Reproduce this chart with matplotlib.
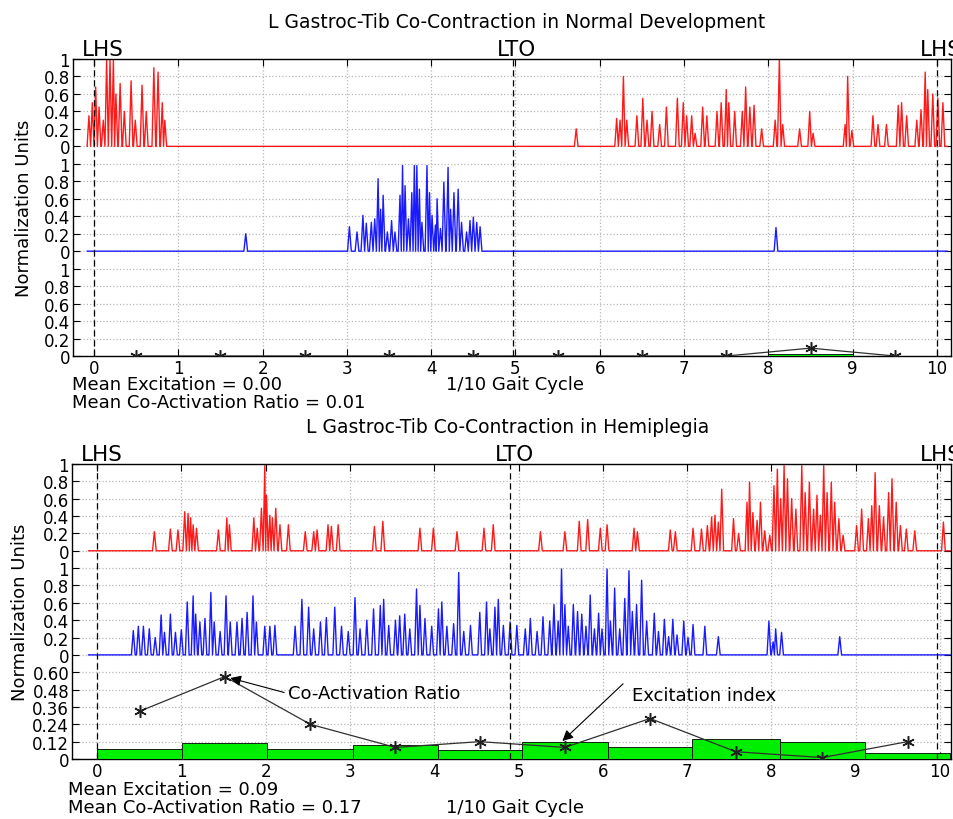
import numpy as np
import matplotlib
matplotlib.use("Agg")
import matplotlib.pyplot as plt

# ---------------- data ----------------
x_ticks = list(range(11))
band_offsets = [0.0, 1.2, 2.4]
band_ticks = [0, 0.2, 0.4, 0.6, 0.8, 1.0]
band_tick_labels = ['0', '0.2', '0.4', '0.6', '0.8', '1']
ratio_labels_normal = ['0', '0.2', '0.4', '0.6', '0.8', '1']
ratio_labels_hemi = ['0', '0.12', '0.24', '0.36', '0.48', '0.60']
ratio_scale_normal = 1.0
ratio_scale_hemi = 0.6

titles = ['L Gastroc-Tib Co-Contraction in Normal Development',
          'L Gastroc-Tib Co-Contraction in Hemiplegia']
mean_excitation = ['0.00', '0.09']
mean_ratio = ['0.01', '0.17']

event_labels = ['LHS', 'LTO', 'LHS']
normal_events = [0.0, 4.97, 10.0]
hemi_events = [0.0, 4.90, 9.96]

normal_signal_range = [-0.08, 10.12]
hemi_signal_range = [-0.1, 10.12]

# Normal development: red trace (upper band) peaks
normal_red_x = [-0.06, -0.02, 0.02, 0.06, 0.11, 0.15, 0.19, 0.23, 0.26, 0.31, 0.36, 0.44, 0.49,
                0.57, 0.62, 0.71, 0.76, 0.81, 0.84, 5.72,
                6.20, 6.24, 6.28, 6.32, 6.44, 6.51, 6.56, 6.62, 6.71, 6.79,
                6.92, 6.99, 7.03, 7.09, 7.13, 7.22, 7.27, 7.39, 7.44, 7.50,
                7.53, 7.60, 7.69, 7.73, 7.78, 7.83, 7.92, 8.08, 8.13, 8.17,
                8.37, 8.49, 8.53, 8.91, 8.94, 8.99, 9.24, 9.30, 9.40, 9.54,
                9.58, 9.64, 9.76, 9.81, 9.86, 9.89, 9.95, 10.01, 10.07]
normal_red_y = [0.35, 0.50, 0.68, 0.45, 0.30, 1.0, 1.0, 1.0, 0.60, 0.72, 0.40, 0.75, 0.30,
                0.70, 0.40, 0.90, 0.85, 0.50, 0.30, 0.20,
                0.32, 0.30, 0.80, 0.30, 0.35, 0.55, 0.30, 0.40, 0.25, 0.45,
                0.55, 0.50, 0.35, 0.35, 0.15, 0.45, 0.35, 0.40, 0.50, 0.65,
                0.50, 0.40, 0.40, 0.68, 0.45, 0.47, 0.20, 0.30, 1.0, 0.25,
                0.20, 0.40, 0.15, 0.25, 0.80, 0.18, 0.35, 0.25, 0.25, 0.47,
                0.50, 0.35, 0.30, 0.42, 0.85, 0.65, 0.60, 0.55, 0.50]

# Normal development: blue trace (middle band) peaks
normal_blue_x = [1.80, 3.03, 3.12, 3.19, 3.23, 3.29, 3.33, 3.37, 3.40, 3.43, 3.48,
                 3.53, 3.57, 3.63, 3.66, 3.69, 3.73, 3.77, 3.80, 3.83, 3.86,
                 3.89, 3.95, 3.98, 4.01, 4.05, 4.07, 4.11, 4.15, 4.20, 4.23,
                 4.27, 4.32, 4.36, 4.42, 4.46, 4.50, 4.54, 4.58, 8.09]
normal_blue_y = [0.20, 0.28, 0.22, 0.41, 0.32, 0.33, 0.37, 0.83, 0.48, 0.64, 0.22,
                 0.35, 0.22, 0.64, 0.98, 0.75, 0.37, 0.67, 0.98, 0.98, 0.71,
                 0.33, 0.98, 0.67, 0.41, 0.30, 0.60, 0.26, 0.79, 0.96, 0.48,
                 0.67, 0.71, 0.33, 0.22, 0.35, 0.39, 0.33, 0.28, 0.27]

# Hemiplegia: red trace peaks
hemi_red_x = [0.68, 0.87, 0.96, 1.04, 1.08, 1.11, 1.14, 1.18, 1.44, 1.54,
              1.57, 1.86, 1.90, 1.95, 1.99, 2.01, 2.05, 2.08, 2.12, 2.17,
              2.27, 2.47, 2.57, 2.61, 2.74, 2.78, 2.86, 3.29, 3.39, 3.83,
              3.99, 4.27, 4.59, 4.70, 5.26, 5.55, 5.72, 5.82, 5.97, 6.05,
              6.37, 6.41, 6.80, 6.86, 7.07, 7.17, 7.24, 7.29, 7.33, 7.37,
              7.41, 7.55, 7.61, 7.71, 7.74, 7.78, 7.83, 7.87, 7.92, 7.98,
              8.03, 8.07, 8.11, 8.15, 8.19, 8.24, 8.29, 8.36, 8.40, 8.45,
              8.50, 8.54, 8.58, 8.62, 8.66, 8.71, 8.75, 8.80, 8.85, 9.01,
              9.07, 9.15, 9.19, 9.23, 9.28, 9.33, 9.39, 9.43, 9.48, 9.53,
              9.60, 9.70, 10.04]
hemi_red_y = [0.22, 0.25, 0.24, 0.45, 0.43, 0.38, 0.30, 0.26, 0.24, 0.38,
              0.30, 0.38, 0.26, 0.49, 0.98, 0.64, 0.41, 0.38, 0.49, 0.30,
              0.30, 0.22, 0.22, 0.24, 0.30, 0.28, 0.30, 0.28, 0.34, 0.26,
              0.26, 0.22, 0.26, 0.30, 0.22, 0.22, 0.34, 0.36, 0.26, 0.30,
              0.26, 0.22, 0.24, 0.22, 0.26, 0.25, 0.29, 0.39, 0.41, 0.33,
              0.71, 0.37, 0.20, 0.56, 0.79, 0.44, 0.35, 0.56, 0.23, 0.18,
              0.75, 0.94, 0.60, 0.98, 0.83, 0.60, 0.48, 0.98, 0.67, 0.79,
              0.48, 0.64, 0.41, 0.98, 0.67, 0.79, 0.56, 0.37, 0.18, 0.29,
              0.48, 0.37, 0.52, 0.90, 0.52, 0.39, 0.67, 0.83, 0.56, 0.29,
              0.25, 0.23, 0.33]

# Hemiplegia: blue trace peaks
hemi_blue_x = [0.43, 0.49, 0.55, 0.62, 0.69, 0.76, 0.80, 0.87, 0.93, 1.00,
               1.07, 1.14, 1.17, 1.22, 1.28, 1.35, 1.39, 1.46, 1.53, 1.58,
               1.66, 1.72, 1.78, 1.85, 1.89, 1.99, 2.05, 2.11, 2.35, 2.43,
               2.51, 2.57, 2.65, 2.72, 2.82, 2.90, 2.98, 3.06, 3.12, 3.20,
               3.28, 3.36, 3.40, 3.46, 3.54, 3.59, 3.65, 3.71, 3.79, 3.83,
               3.89, 3.97, 4.05, 4.09, 4.15, 4.23, 4.29, 4.35, 4.43, 4.54,
               4.62, 4.66, 4.72, 4.76, 4.82, 4.90, 4.98,
               5.08, 5.14, 5.22, 5.29, 5.37, 5.42, 5.47, 5.51, 5.55, 5.59,
               5.65, 5.70, 5.75, 5.80, 5.85, 5.90, 5.95, 5.99, 6.05, 6.09,
               6.14, 6.20, 6.26, 6.31, 6.35, 6.40, 6.46, 6.52, 6.61, 6.66,
               6.73, 6.78, 6.83, 6.88, 6.96, 7.01, 7.07, 7.21, 7.37, 7.97,
               8.02, 8.05, 8.12, 8.81]
hemi_blue_y = [0.28, 0.33, 0.33, 0.30, 0.20, 0.46, 0.26, 0.47, 0.26, 0.29,
               0.61, 0.68, 0.47, 0.38, 0.42, 0.72, 0.38, 0.27, 0.68, 0.38,
               0.38, 0.42, 0.49, 0.68, 0.38, 0.33, 0.33, 0.34, 0.33, 0.64,
               0.55, 0.30, 0.38, 0.43, 0.55, 0.33, 0.27, 0.66, 0.30, 0.40,
               0.53, 0.57, 0.64, 0.34, 0.40, 0.45, 0.47, 0.30, 0.76, 0.57,
               0.42, 0.33, 0.53, 0.61, 0.33, 0.36, 0.95, 0.27, 0.34, 0.49,
               0.61, 0.30, 0.55, 0.64, 0.34, 0.38, 0.34,
               0.30, 0.42, 0.27, 0.44, 0.39, 0.58, 0.39, 0.99, 0.58, 0.33,
               0.58, 0.50, 0.47, 0.33, 0.69, 0.30, 0.48, 0.30, 0.99, 0.39,
               0.77, 0.30, 0.65, 0.97, 0.50, 0.58, 0.86, 0.39, 0.48, 0.27,
               0.41, 0.21, 0.41, 0.23, 0.39, 0.20, 0.35, 0.33, 0.21, 0.39,
               0.15, 0.30, 0.26, 0.21]

# Per-tenth co-activation ratio and excitation index
normal_bin_edges = [0, 1, 2, 3, 4, 5, 6, 7, 8, 9, 10]
normal_ratio = [0, 0, 0, 0, 0, 0, 0, 0, 0.09, 0]
normal_excitation = [0, 0, 0, 0, 0, 0, 0, 0.005, 0.02, 0]

hemi_bin_edges = [0, 1.01, 2.02, 3.04, 4.04, 5.04, 6.06, 7.06, 8.10, 9.11, 10.12]
hemi_ratio = [0.33, 0.57, 0.24, 0.08, 0.12, 0.08, 0.28, 0.05, 0.01, 0.12]
hemi_excitation = [0.07, 0.11, 0.07, 0.10, 0.06, 0.12, 0.08, 0.14, 0.12, 0.04]

# ---------------- drawing ----------------
W, H = 954, 820
fig = plt.figure(figsize=(W / 100, H / 100), dpi=100)
FS = 13
TICK_FS = 12


def spike_trace(px, py, rng, half=0.022):
    xs, ys = [rng[0]], [0.0]
    n = len(px)
    for i in range(n):
        gl = px[i] - px[i - 1] if i > 0 else 1.0
        gr = px[i + 1] - px[i] if i < n - 1 else 1.0
        wl, wr = min(half, gl / 2), min(half, gr / 2)
        xs += [px[i] - wl, px[i], px[i] + wr]
        ys += [0.0, py[i], 0.0]
    xs.append(rng[1])
    ys.append(0.0)
    return np.array(xs), np.array(ys)


def draw_panel(ax, xlim, red, blue, rng, edges, ratio, excit, scale, rlabels,
               events, label_dx):
    ax.set_xlim(*xlim)
    ax.set_ylim(0, 3.4)
    ax.set_axisbelow(True)
    yt = [off + t for off in band_offsets for t in band_ticks]
    ylab = rlabels + band_tick_labels + band_tick_labels
    ax.set_yticks(yt)
    ax.set_yticklabels(ylab)
    ax.set_xticks(x_ticks)
    ax.set_xticklabels([str(t) for t in x_ticks])
    ax.grid(True, color='#b8b8b8', linestyle=':', linewidth=0.9)
    ax.tick_params(direction='in', top=True, right=True, length=5, width=0.8,
                   labelsize=TICK_FS, pad=2)
    for s in ax.spines.values():
        s.set_linewidth(1.0)

    edges = np.array(edges, dtype=float)
    lefts = edges[:-1]
    widths = np.diff(edges)
    ax.bar(lefts, np.array(excit) / scale, width=widths, align='edge',
           color='#00ee00', edgecolor='black', linewidth=0.6, zorder=3)
    centers = lefts + widths / 2
    ax.plot(centers, np.array(ratio) / scale, color='#303030', lw=0.9,
            marker=(6, 2, 0), ms=9, mew=1.1, mec='#202020', zorder=4)

    rx, ry = spike_trace(red[0], red[1], rng)
    ax.plot(rx, ry + band_offsets[2], color='#ff1a1a', lw=1.0, zorder=2)
    bx, by = spike_trace(blue[0], blue[1], rng)
    ax.plot(bx, by + band_offsets[1], color='#1a1aff', lw=1.0, zorder=2)

    for e, lab, dx in zip(events, event_labels, label_dx):
        ax.axvline(e, color='black', linestyle=(0, (5, 3)), lw=0.9, zorder=5)
        ax.text(e + dx, 3.4, lab, ha='center', va='bottom', fontsize=15.5,
                transform=ax.transData)


def fx(px):
    return px / W


def fy(py):
    return 1 - py / H


# top panel
ax1 = fig.add_axes([fx(73), fy(357), (951 - 73) / W, 297 / H])
draw_panel(ax1, (-0.249, 10.166), (normal_red_x, normal_red_y),
           (normal_blue_x, normal_blue_y), normal_signal_range,
           normal_bin_edges, normal_ratio, normal_excitation,
           ratio_scale_normal, ratio_labels_normal, normal_events,
           [0.1, 0.04, 0.05])

# bottom panel
ax2 = fig.add_axes([fx(72), fy(760), (951 - 72) / W, 295 / H])
draw_panel(ax2, (-0.297, 10.13), (hemi_red_x, hemi_red_y),
           (hemi_blue_x, hemi_blue_y), hemi_signal_range,
           hemi_bin_edges, hemi_ratio, hemi_excitation,
           ratio_scale_hemi, ratio_labels_hemi, hemi_events,
           [0.06, 0.05, 0.05])

arrow = dict(arrowstyle='-|>', color='black', lw=0.8, shrinkA=0, shrinkB=0,
             mutation_scale=16)
ax2.text(2.27, 0.455 / ratio_scale_hemi, 'Co-Activation Ratio', ha='left',
         va='center', fontsize=FS, zorder=6)
ax2.annotate('', xy=(1.58, 0.56 / ratio_scale_hemi),
             xytext=(2.22, 0.46 / ratio_scale_hemi), arrowprops=arrow, zorder=6)
ax2.text(6.35, 0.44 / ratio_scale_hemi, 'Excitation index', ha='left',
         va='center', fontsize=FS, zorder=6)
ax2.annotate('', xy=(5.52, 0.124 / ratio_scale_hemi),
             xytext=(6.24, 0.52 / ratio_scale_hemi), arrowprops=arrow, zorder=6)

# titles and texts
fig.text(fx(517), fy(22), titles[0], ha='center', va='center', fontsize=13.5)
fig.text(fx(508), fy(428), titles[1], ha='center', va='center', fontsize=13.5)

fig.text(fx(72), fy(385), 'Mean Excitation = ' + mean_excitation[0],
         ha='left', va='center', fontsize=FS)
fig.text(fx(72), fy(403), 'Mean Co-Activation Ratio = ' + mean_ratio[0],
         ha='left', va='center', fontsize=FS)
fig.text(fx(515), fy(385), '1/10 Gait Cycle', ha='center', va='center', fontsize=FS)

fig.text(fx(68), fy(790), 'Mean Excitation = ' + mean_excitation[1],
         ha='left', va='center', fontsize=FS)
fig.text(fx(68), fy(808), 'Mean Co-Activation Ratio = ' + mean_ratio[1],
         ha='left', va='center', fontsize=FS)
fig.text(fx(515), fy(808), '1/10 Gait Cycle', ha='center', va='center', fontsize=FS)

fig.text(fx(24), fy(208), 'Normalization Units', rotation=90, ha='center',
         va='center', fontsize=13)
fig.text(fx(20), fy(612), 'Normalization Units', rotation=90, ha='center',
         va='center', fontsize=13)

fig.savefig('out.png', dpi=100)
